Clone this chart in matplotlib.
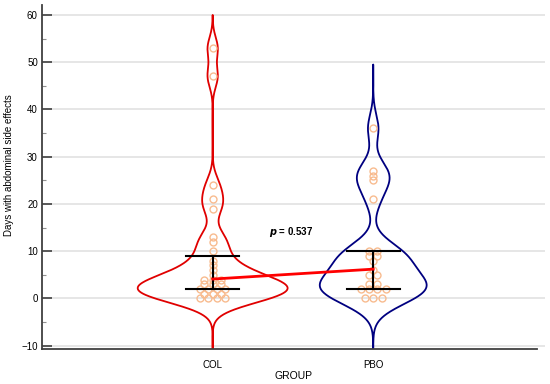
import numpy as np
import matplotlib
matplotlib.use("Agg")
import matplotlib.pyplot as plt
from matplotlib.ticker import MultipleLocator
from collections import Counter

plt.rcParams['font.family'] = ['Liberation Sans', 'DejaVu Sans']

# ---------------- data ----------------
groups = ["COL", "PBO"]
col_days = [53, 47, 24, 21, 19, 13, 12, 10, 8, 7, 6, 5, 4, 4, 4,
            3, 3, 3, 2, 2, 2, 2, 1, 1, 1, 0, 0, 0, 0]
pbo_days = [36, 27, 26, 25, 21, 10, 10, 9, 9, 8, 6, 5, 5, 3, 3,
            2, 2, 2, 2, 0, 0, 0]
# error bar summary (lower, centre, upper)
col_lower, col_centre, col_upper = 2.1, 4.1, 8.9
pbo_lower, pbo_centre, pbo_upper = 2.1, 6.2, 10.0
p_text_value = "0.537"
yticks = [-10, 0, 10, 20, 30, 40, 50, 60]

# --------------- figure ---------------
W, H, DPI = 550, 384, 100
fig = plt.figure(figsize=(W / DPI, H / DPI), dpi=DPI)
ax = fig.add_axes([42 / W, 1 - 349 / H, (545 - 42) / W, (349 - 5) / H])
ax.set_xlim(-0.063, 3.07)
ax.set_ylim(-10.7, 62.1)

# gridlines
for t in yticks:
    ax.axhline(t, color="#e6e6e6", lw=1.4, zorder=0)

xs = [1, 2]
colors = ["#e00000", "#000080"]
datasets = [col_days, pbo_days]
tops = [60, 49.5]
bws = [2.3, 2.9]
grid_all = []
dens_all = []
for data, top, bw in zip(datasets, tops, bws):
    d = np.asarray(data, float)
    yy = np.linspace(-10.7, top, 600)
    k = np.exp(-0.5 * ((yy[:, None] - d[None, :]) / bw) ** 2).sum(axis=1)
    k /= (bw * np.sqrt(2 * np.pi) * len(d))
    grid_all.append(yy)
    dens_all.append(k)
scale = 0.467 / max(k.max() for k in dens_all)
for x, yy, k, c in zip(xs, grid_all, dens_all, colors):
    w = k * scale
    ax.plot(np.concatenate([x - w, (x + w)[::-1], [x - w[0]]]),
            np.concatenate([yy, yy[::-1], [yy[0]]]), color=c, lw=1.3, zorder=2)

# dot layout: identical values side by side, centred
px_per_x = 160.6
spacing = 8.4
for x, data in zip(xs, datasets):
    cnt = Counter(data)
    for v, n in cnt.items():
        offs = (np.arange(n) - (n - 1) / 2) * spacing
        for o in offs:
            ax.plot(x + o / px_per_x, v, 'o', ms=5.0, mfc='none', mec="#f8bb8f",
                    mew=1.0, zorder=3)

# error bars
cap = 0.165
for x, lo, hi in zip(xs, [col_lower, pbo_lower], [col_upper, pbo_upper]):
    ax.plot([x, x], [lo, hi], color="black", lw=1.5, zorder=4)
    ax.plot([x - cap, x + cap], [lo, lo], color="black", lw=1.5, zorder=4)
    ax.plot([x - cap, x + cap], [hi, hi], color="black", lw=1.5, zorder=4)
ax.plot(xs, [col_centre, pbo_centre], color="#ff0000", lw=2.0, zorder=5)

ax.text(1.49, 14.1, r"$\bfit{p}$" + " = " + p_text_value, ha="center", va="center",
        fontsize=7, fontweight="bold")

# axes styling
for s in ["top", "right"]:
    ax.spines[s].set_visible(False)
for s in ["left", "bottom"]:
    ax.spines[s].set_color("#404040")
    ax.spines[s].set_linewidth(1.3)
ax.spines["bottom"].set_bounds(-0.063, 3.02)
ax.set_yticks(yticks)
ax.yaxis.set_minor_locator(MultipleLocator(5))
ax.set_xticks(xs)
ax.set_xticklabels(groups)
ax.tick_params(axis="both", which="major", direction="in", length=7, width=1.2,
               color="#404040", labelsize=7, pad=3)
ax.tick_params(axis="x", which="major", pad=8)
ax.tick_params(axis="y", which="minor", direction="in", length=3, width=0.8,
               color="#909090")
ax.set_ylabel("Days with abdominal side effects", fontsize=7)
ax.yaxis.set_label_coords(-0.066, 0.535)
ax.set_xlabel("GROUP", fontsize=7.5)
ax.xaxis.set_label_coords(0.5, -0.078)
ax.xaxis.label.set_va("center")
ax.yaxis.label.set_va("center")

fig.savefig("out.png", dpi=DPI)
